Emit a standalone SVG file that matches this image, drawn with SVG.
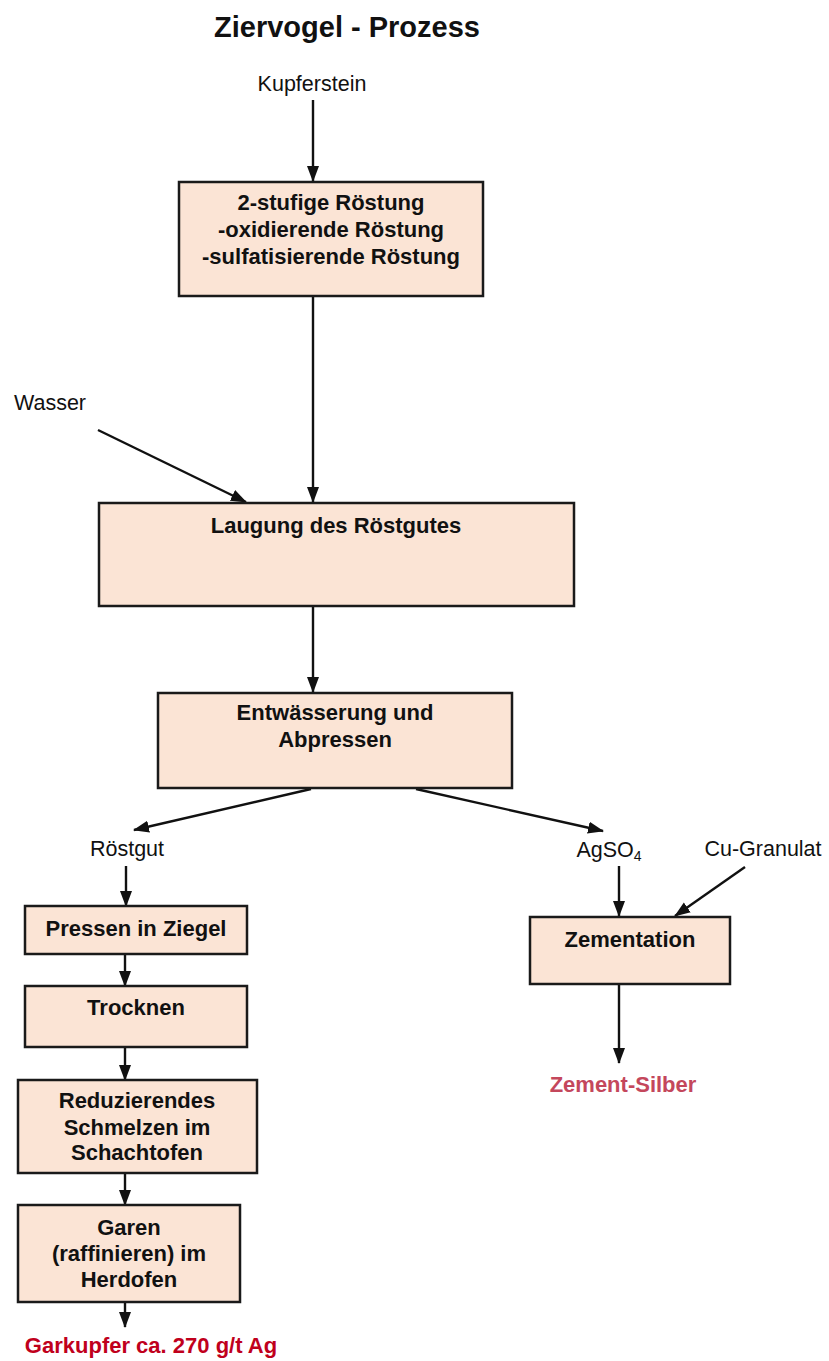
<svg xmlns="http://www.w3.org/2000/svg" width="829" height="1361" viewBox="0 0 829 1361">
<style>
.box{fill:#fbe4d5;stroke:#1a1a1a;stroke-width:2.5}
.bt{font-family:"Liberation Sans",Arial,sans-serif;font-weight:bold;font-size:22px;fill:#111;text-anchor:middle}
.lt{font-family:"Liberation Sans",Arial,sans-serif;font-size:21.5px;fill:#111;text-anchor:middle}
.ln{stroke:#111;stroke-width:2.4;fill:none}
</style>
<defs>
<marker id="ah" markerUnits="userSpaceOnUse" markerWidth="16" markerHeight="16" viewBox="0 0 16 16" refX="15" refY="8" orient="auto">
<path d="M0,2 L16,8 L0,14 Z" fill="#111"/>
</marker>
</defs>
<rect width="829" height="1361" fill="#fff"/>
<text x="347" y="37" style="font-family:'Liberation Sans',Arial,sans-serif;font-weight:bold;font-size:29px;fill:#111;text-anchor:middle">Ziervogel - Prozess</text>

<g id="connectors">
<line class="ln" x1="313" y1="100" x2="313" y2="181" marker-end="url(#ah)"/>
<line class="ln" x1="313" y1="296" x2="313" y2="502" marker-end="url(#ah)"/>
<line class="ln" x1="98" y1="430" x2="246" y2="502" marker-end="url(#ah)"/>
<line class="ln" x1="313" y1="606" x2="313" y2="692" marker-end="url(#ah)"/>
<line class="ln" x1="311" y1="789" x2="134" y2="830" marker-end="url(#ah)"/>
<line class="ln" x1="416" y1="789" x2="603" y2="831" marker-end="url(#ah)"/>
<line class="ln" x1="126" y1="866" x2="126" y2="906" marker-end="url(#ah)"/>
<line class="ln" x1="125" y1="954" x2="125" y2="986" marker-end="url(#ah)"/>
<line class="ln" x1="125" y1="1047" x2="125" y2="1080" marker-end="url(#ah)"/>
<line class="ln" x1="125" y1="1173" x2="125" y2="1205" marker-end="url(#ah)"/>
<line class="ln" x1="125" y1="1302" x2="125" y2="1327" marker-end="url(#ah)"/>
<line class="ln" x1="619" y1="866" x2="619" y2="916" marker-end="url(#ah)"/>
<line class="ln" x1="745" y1="867" x2="675" y2="916" marker-end="url(#ah)"/>
<line class="ln" x1="619" y1="984" x2="619" y2="1063" marker-end="url(#ah)"/>
</g>

<g id="kupferstein"><text class="lt" x="312" y="91">Kupferstein</text></g>
<g id="wasser"><text class="lt" x="50" y="410">Wasser</text></g>

<g id="roestung">
<rect class="box" x="179" y="182" width="304" height="114"/>
<text class="bt" x="331" y="210">2-stufige Röstung</text>
<text class="bt" x="331" y="237">-oxidierende Röstung</text>
<text class="bt" x="331" y="264">-sulfatisierende Röstung</text>
</g>

<g id="laugung">
<rect class="box" x="99" y="503" width="475" height="103"/>
<text class="bt" x="336" y="533">Laugung des Röstgutes</text>
</g>

<g id="entwaesserung">
<rect class="box" x="158" y="693" width="354" height="95"/>
<text class="bt" x="335" y="720">Entwässerung und</text>
<text class="bt" x="335" y="747">Abpressen</text>
</g>

<g id="roestgut"><text class="lt" x="127" y="856">Röstgut</text></g>
<g id="agso4"><text class="lt" x="609" y="857">AgSO<tspan font-size="14px" dy="4">4</tspan></text></g>
<g id="cugranulat"><text class="lt" x="763" y="856">Cu-Granulat</text></g>

<g id="pressen">
<rect class="box" x="25" y="906" width="222" height="48"/>
<text class="bt" x="136" y="936">Pressen in Ziegel</text>
</g>

<g id="trocknen">
<rect class="box" x="25" y="986" width="222" height="61"/>
<text class="bt" x="136" y="1015">Trocknen</text>
</g>

<g id="reduzierendes">
<rect class="box" x="18" y="1080" width="239" height="93"/>
<text class="bt" x="137" y="1108">Reduzierendes</text>
<text class="bt" x="137" y="1135">Schmelzen im</text>
<text class="bt" x="137" y="1160">Schachtofen</text>
</g>

<g id="garen">
<rect class="box" x="18" y="1205" width="222" height="97"/>
<text class="bt" x="129" y="1235">Garen</text>
<text class="bt" x="129" y="1261">(raffinieren) im</text>
<text class="bt" x="129" y="1287">Herdofen</text>
</g>

<g id="garkupfer"><text class="bt" x="151" y="1353" style="fill:#c0001c">Garkupfer ca. 270 g/t Ag</text></g>

<g id="zementation">
<rect class="box" x="530" y="917" width="200" height="67"/>
<text class="bt" x="630" y="947">Zementation</text>
</g>

<g id="zementsilber"><text class="bt" x="623" y="1092" style="fill:#c4475c">Zement-Silber</text></g>
</svg>
